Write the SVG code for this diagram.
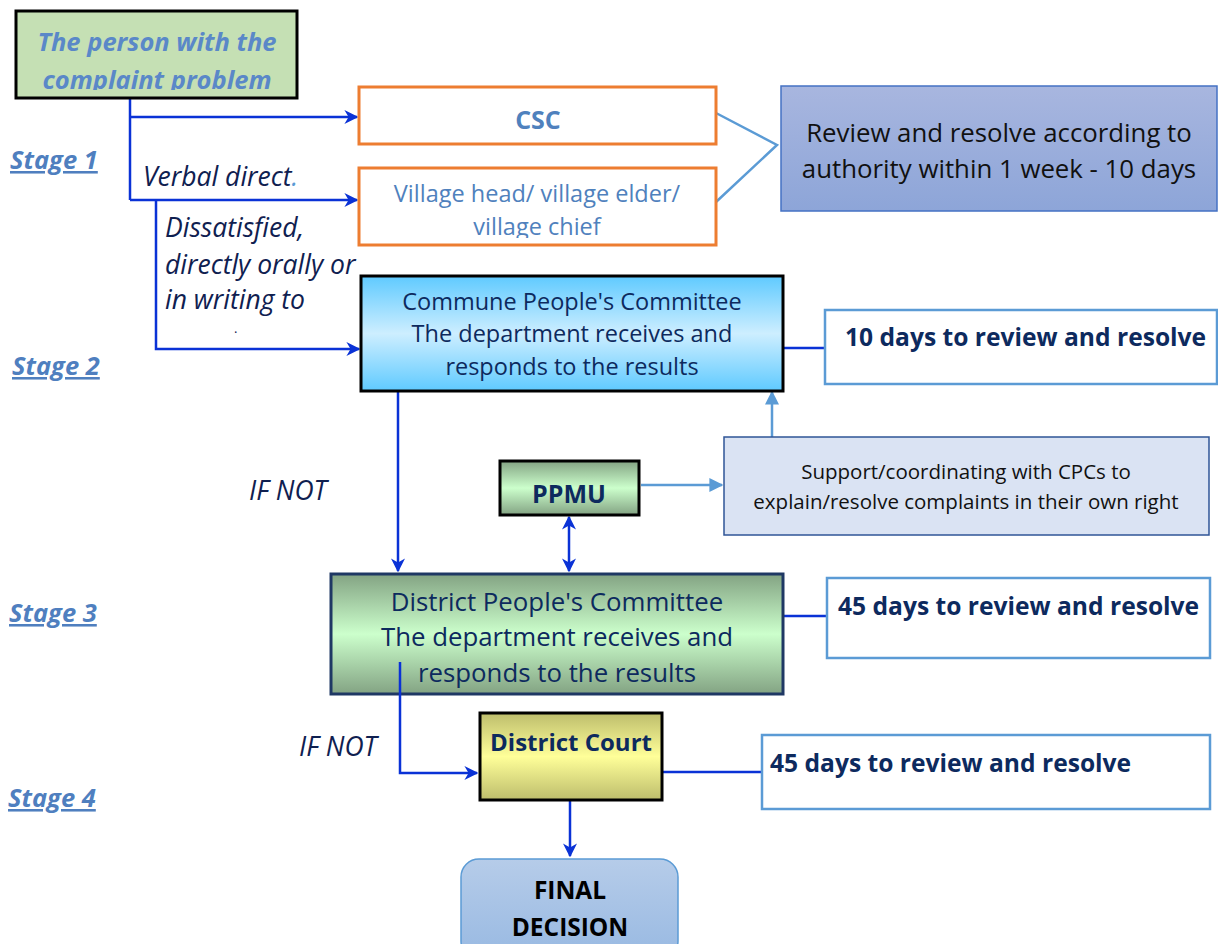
<svg xmlns="http://www.w3.org/2000/svg" width="1218" height="944" viewBox="0 0 1218 944">
<defs>
<linearGradient id="gBlue" x1="0" y1="0" x2="0" y2="1">
<stop offset="0" stop-color="#5fcaff"/><stop offset="0.5" stop-color="#cdeeff"/><stop offset="1" stop-color="#5fcaff"/>
</linearGradient>
<linearGradient id="gGreen" x1="0" y1="0" x2="0" y2="1">
<stop offset="0" stop-color="#83a383"/><stop offset="0.5" stop-color="#ccffcc"/><stop offset="1" stop-color="#83a383"/>
</linearGradient>
<linearGradient id="gYellow" x1="0" y1="0" x2="0" y2="1">
<stop offset="0" stop-color="#bdbd6c"/><stop offset="0.5" stop-color="#ffff99"/><stop offset="1" stop-color="#bdbd6c"/>
</linearGradient>
<linearGradient id="gReview" x1="0" y1="0" x2="0" y2="1">
<stop offset="0" stop-color="#a8b6df"/><stop offset="1" stop-color="#8da5d8"/>
</linearGradient>
<linearGradient id="gFinal" x1="0" y1="0" x2="0" y2="1">
<stop offset="0" stop-color="#b6cce9"/><stop offset="1" stop-color="#98b9e2"/>
</linearGradient>
<marker id="aDark" viewBox="0 0 10 10" refX="9" refY="5" markerWidth="14" markerHeight="14" orient="auto-start-reverse" markerUnits="userSpaceOnUse">
<path d="M0,0 L10,5 L0,10 L3,5 Z" fill="#0a32d6"/>
</marker>
<marker id="aLight" viewBox="0 0 10 10" refX="9" refY="5" markerWidth="14" markerHeight="14" orient="auto" markerUnits="userSpaceOnUse">
<path d="M0,0 L10,5 L0,10 Z" fill="#5b9bd5"/>
</marker>
<clipPath id="cPerson"><rect x="16" y="11" width="281" height="79"/></clipPath>
<clipPath id="cVillage"><rect x="359" y="168" width="357" height="70"/></clipPath>
</defs>
<style>
text{font-family:"Open Sans","Liberation Sans",sans-serif}
.dk{stroke:#0a32d6;stroke-width:2.5;fill:none}
.lt{stroke:#5b9bd5;stroke-width:2.5;fill:none}
.stage{font-size:25.5px;font-weight:bold;font-style:italic;fill:#4f7fbf;text-decoration:underline}
.lbl{font-size:26.5px;font-style:italic;fill:#0f2050}
.navy{fill:#0d2a5e}
.days{font-size:24.6px;font-weight:bold;fill:#0d2a5e}
.orange{fill:#ffffff;stroke:#ed7d31;stroke-width:3}
.daybox{fill:#ffffff;stroke:#5b9bd5;stroke-width:2.5}
.blk{stroke:#000;stroke-width:3}
</style>

<g id="connectors">
<path class="dk" d="M130,98 V200"/>
<path class="dk" d="M130,117 H357" marker-end="url(#aDark)"/>
<path class="dk" d="M130,200 H357" marker-end="url(#aDark)"/>
<path class="dk" d="M156,200 V349 H359" marker-end="url(#aDark)"/>
<path class="lt" d="M716,113 L777,145 L716,202"/>
<path class="dk" d="M783,348 H825"/>
<path class="dk" d="M398,391 V571" marker-end="url(#aDark)"/>
<path class="lt" d="M641,485 H722" marker-end="url(#aLight)"/>
<path class="lt" d="M772,437 V392" marker-end="url(#aLight)"/>
<path class="dk" d="M569,517 V571" marker-start="url(#aDark)" marker-end="url(#aDark)"/>
<path class="dk" d="M783,616 H827"/>
<path class="dk" d="M662,772 H762"/>
<path class="dk" d="M570,800 V856" marker-end="url(#aDark)"/>
</g>

<g id="stages">
<text class="stage" x="10" y="169">Stage 1</text>
<text class="stage" x="12" y="375">Stage 2</text>
<text class="stage" x="9" y="622">Stage 3</text>
<text class="stage" x="8" y="807">Stage 4</text>
</g>

<g id="labels">
<text class="lbl" x="143" y="186">Verbal direct<tspan fill="#5b9bd5">.</tspan></text>
<text class="lbl" x="165" y="237">Dissatisfied,</text>
<text class="lbl" x="165" y="274">directly orally or</text>
<text class="lbl" x="165" y="309">in writing to</text>
<text x="234" y="333" font-size="13" fill="#0f2050">.</text>
<text class="lbl" x="249" y="500">IF NOT</text>
<text class="lbl" x="299" y="756">IF NOT</text>
</g>

<g id="person">
<rect x="16" y="11" width="281" height="87" fill="#c5e0b4" class="blk"/>
<g clip-path="url(#cPerson)">
<text x="157" y="51" text-anchor="middle" font-size="25.5" font-weight="bold" font-style="italic" fill="#5a88c8">The person with the</text>
<text x="157" y="89" text-anchor="middle" font-size="25.5" font-weight="bold" font-style="italic" fill="#5a88c8">complaint problem</text>
</g>
</g>

<g id="csc">
<rect x="359" y="87" width="357" height="57" class="orange"/>
<text x="538" y="129" text-anchor="middle" font-size="25" font-weight="bold" fill="#4f81bd">CSC</text>
</g>

<g id="village">
<rect x="359" y="168" width="357" height="77" class="orange"/>
<g clip-path="url(#cVillage)">
<text x="537" y="202" text-anchor="middle" font-size="23.5" fill="#4f81bd">Village head/ village elder/</text>
<text x="537" y="235" text-anchor="middle" font-size="23.5" fill="#4f81bd">village chief</text>
</g>
</g>

<g id="review">
<rect x="781" y="86" width="436" height="125" fill="url(#gReview)" stroke="#4472c4" stroke-width="1.5"/>
<text x="999" y="142" text-anchor="middle" font-size="25.8" fill="#111">Review and resolve according to</text>
<text x="999" y="178" text-anchor="middle" font-size="25.8" fill="#111">authority within 1 week - 10 days</text>
</g>

<g id="commune">
<rect x="361" y="276" width="422" height="115" fill="url(#gBlue)" class="blk"/>
<text x="572" y="310" text-anchor="middle" font-size="23.5" class="navy">Commune People's Committee</text>
<text x="572" y="342" text-anchor="middle" font-size="23.5" class="navy">The department receives and</text>
<text x="572" y="375" text-anchor="middle" font-size="23.5" class="navy">responds to the results</text>
</g>

<g id="days10">
<rect x="825" y="310" width="392" height="74" class="daybox"/>
<text x="845" y="346" class="days">10 days to review and resolve</text>
</g>

<g id="ppmu">
<rect x="500" y="461" width="139" height="54" fill="url(#gGreen)" class="blk"/>
<text x="569" y="503" text-anchor="middle" font-size="25" font-weight="bold" class="navy">PPMU</text>
</g>

<g id="support">
<rect x="724" y="437" width="485" height="98" fill="#dae3f3" stroke="#2f5597" stroke-width="1.5"/>
<text x="966" y="479" text-anchor="middle" font-size="20.5" fill="#111">Support/coordinating with CPCs to</text>
<text x="966" y="509" text-anchor="middle" font-size="20.5" fill="#111">explain/resolve complaints in their own right</text>
</g>

<g id="district">
<rect x="331" y="574" width="452" height="120" fill="url(#gGreen)" stroke="#1f3864" stroke-width="3"/>
<text x="557" y="611" text-anchor="middle" font-size="25.8" class="navy">District People's Committee</text>
<text x="557" y="646" text-anchor="middle" font-size="25.8" class="navy">The department receives and</text>
<text x="557" y="682" text-anchor="middle" font-size="25.8" class="navy">responds to the results</text>
</g>

<g id="days45a">
<rect x="827" y="578" width="383" height="80" class="daybox"/>
<text x="838" y="615" class="days">45 days to review and resolve</text>
</g>

<path class="dk" d="M400,662 V773 H477" marker-end="url(#aDark)"/>

<g id="court">
<rect x="480" y="713" width="182" height="87" fill="url(#gYellow)" class="blk"/>
<text x="571" y="751" text-anchor="middle" font-size="24" font-weight="bold" class="navy">District Court</text>
</g>

<g id="days45b">
<rect x="762" y="735" width="448" height="74" class="daybox"/>
<text x="770" y="772" class="days">45 days to review and resolve</text>
</g>

<g id="final">
<rect x="461" y="859" width="217" height="100" rx="18" fill="url(#gFinal)" stroke="#5b9bd5" stroke-width="1.5"/>
<text x="570" y="899" text-anchor="middle" font-size="24.5" font-weight="bold" fill="#000">FINAL</text>
<text x="570" y="936" text-anchor="middle" font-size="24.5" font-weight="bold" fill="#000">DECISION</text>
</g>
</svg>
